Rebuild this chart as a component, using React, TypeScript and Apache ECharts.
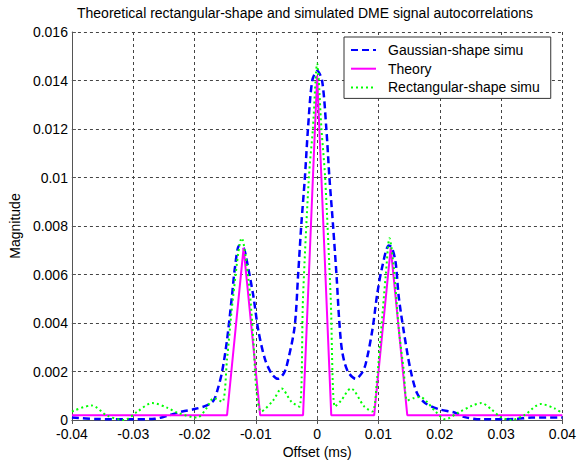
import React, { useEffect, useRef } from "react";
import * as echarts from "echarts";

const TITLE = "Theoretical rectangular-shape and simulated DME signal autocorrelations";
const X_NAME = "Offset (ms)";
const Y_NAME = "Magnitude";
const SERIES_NAMES = ["Gaussian-shape simu", "Theory", "Rectangular-shape simu"];

// Gaussian-shape simulation (blue dashed)
const gaussX = [
  -0.04, -0.036, -0.03, -0.0265, -0.0245, -0.022, -0.02, -0.018, -0.0169, -0.0163,
  -0.0155, -0.0147, -0.0139, -0.0134, -0.0127, -0.012, -0.0115, -0.0104, -0.0096, -0.0085,
  -0.0074, -0.0064, -0.0055, -0.005, -0.0037, -0.0031, -0.0026, -0.002, -0.0015, -0.0008,
  0, 0.0008, 0.0015, 0.002, 0.0026, 0.0032, 0.0036, 0.0041, 0.005, 0.0063,
  0.0072, 0.0079, 0.009, 0.0098, 0.0106, 0.0117, 0.0122, 0.0128, 0.0133, 0.0141,
  0.0152, 0.0163, 0.0176, 0.0198, 0.0225, 0.0241, 0.0268, 0.0322, 0.035, 0.04,
];
const gaussY = [
  0.0001, 0.00004, 0.00003, 0.00005, 0.00017, 0.00035, 0.00045, 0.0006, 0.0008, 0.0012,
  0.002, 0.0033, 0.0051, 0.0063, 0.0072, 0.0071, 0.0066, 0.0051, 0.0037, 0.0025,
  0.0019, 0.0017, 0.0019, 0.0022, 0.0038, 0.006, 0.008, 0.01, 0.012, 0.014,
  0.0144, 0.014, 0.012, 0.01, 0.008, 0.0058, 0.0041, 0.0028, 0.002, 0.0017,
  0.0019, 0.0023, 0.0037, 0.0052, 0.0063, 0.0072, 0.0071, 0.0065, 0.0051, 0.0037,
  0.0021, 0.0011, 0.0007, 0.00045, 0.0003, 0.00012, 0.00003, 0.00004, 0.0001, 0.0001,
];

// Theoretical rectangular-shape autocorrelation (magenta solid)
const theoryX = [-0.04, -0.0147, -0.012, -0.0093, -0.0023, 0, 0.0023, 0.0093, 0.012, 0.0147, 0.04];
const theoryY = [0.0002, 0.0002, 0.0071, 0.0002, 0.0002, 0.0142, 0.0002, 0.0002, 0.0071, 0.0002, 0.0002];

// Rectangular-shape simulation (green dotted)
const rectX = [
  -0.04, -0.0368, -0.0342, -0.0315, -0.0293, -0.0269, -0.0244, -0.0228, -0.0196, -0.018,
  -0.0169, -0.0155, -0.0147, -0.0137, -0.0123, -0.0112, -0.0104, -0.0099, -0.0091, -0.0072,
  -0.0058, -0.0042, -0.0029, -0.0023, -0.00135, -0.0007, 0, 0.0007, 0.0013, 0.0022,
  0.0029, 0.0039, 0.0055, 0.0077, 0.009, 0.0098, 0.0104, 0.0112, 0.0118, 0.0125,
  0.0133, 0.0141, 0.0147, 0.0157, 0.0168, 0.0179, 0.0193, 0.0209, 0.023, 0.0252,
  0.0268, 0.0284, 0.03, 0.0317, 0.0338, 0.0365, 0.0387, 0.04,
];
const rectY = [
  0.00035, 0.0006, 0.00017, 0.0, 0.00035, 0.0007, 0.0005, 0.0003, 0.0001, 0.0005,
  0.0009, 0.00075, 0.0025, 0.0051, 0.0075, 0.0058, 0.0033, 0.0012, 0.00035, 0.0008,
  0.0013, 0.00075, 0.00055, 0.0051, 0.01, 0.012, 0.0147, 0.012, 0.01, 0.0051,
  0.00055, 0.0008, 0.0013, 0.00055, 0.00035, 0.0018, 0.0036, 0.006, 0.0075, 0.0063,
  0.0038, 0.0021, 0.0008, 0.0009, 0.00095, 0.00075, 0.00035, 0.00003, 0.0003, 0.00058,
  0.0007, 0.00044, 0.00011, 0.0, 0.0002, 0.00066, 0.00048, 0.00028,
];

const X_MIN = -0.04;
const X_MAX = 0.04;
const X_STEP = 0.01;
const Y_MIN = 0;
const Y_MAX = 0.016;
const Y_STEP = 0.002;

const FONT = "'Liberation Sans', Arial, sans-serif";
const FS = 14;
const AXIS_COLOR = "#555";
const GRID_COLOR = "#444";

const zip = (xs: number[], ys: number[]) => xs.map((x, i) => [x, ys[i]]);

export default function App() {
  const ref = useRef<HTMLDivElement>(null);
  useEffect(() => {
    if (!ref.current) return;
    const chart = echarts.init(ref.current, undefined, { renderer: "svg" });
    const fmt = (v: number) => String(parseFloat(v.toFixed(4)));
    const baseAxis = {
      type: "value" as const,
      axisLine: { show: true, onZero: false, lineStyle: { color: AXIS_COLOR, width: 1 } },
      axisTick: { show: true, inside: true, length: 4, lineStyle: { color: AXIS_COLOR } },
    };
    chart.setOption({
      animation: false,
      backgroundColor: "#fff",
      textStyle: { fontFamily: FONT },
      title: {
        text: TITLE,
        left: 77,
        top: 6,
        padding: 0,
        textStyle: { fontSize: FS, fontWeight: "normal", color: "#000", fontFamily: FONT },
      },
      legend: {
        orient: "vertical",
        left: 344,
        top: 37,
        padding: [5, 11, 3, 6],
        itemWidth: 25,
        itemHeight: 16,
        itemGap: 2.7,
        backgroundColor: "#fff",
        borderColor: "#333",
        borderWidth: 1,
        borderRadius: 0,
        itemStyle: { opacity: 0 },
        textStyle: {
          fontSize: FS,
          lineHeight: 16,
          color: "#000",
          fontFamily: FONT,
          padding: [0, 0, 0, 7],
        },
        data: SERIES_NAMES,
      },
      grid: { left: 69, right: 13, top: 32, bottom: 47, containLabel: false },
      xAxis: [
        {
          ...baseAxis,
          min: X_MIN,
          max: X_MAX,
          interval: X_STEP,
          position: "bottom",
          name: X_NAME,
          nameLocation: "middle",
          nameGap: 25,
          nameTextStyle: { fontSize: FS, color: "#000", fontFamily: FONT },
          axisLabel: {
            fontSize: FS,
            lineHeight: 13,
            color: "#000",
            margin: 7,
            formatter: fmt,
            fontFamily: FONT,
          },
          splitLine: { show: true, lineStyle: { color: GRID_COLOR, type: [3, 3], width: 1 } },
        },
        {
          ...baseAxis,
          min: X_MIN,
          max: X_MAX,
          interval: X_STEP,
          position: "top",
          axisLine: { show: false },
          axisLabel: { show: false },
          splitLine: { show: false },
        },
      ],
      yAxis: [
        {
          ...baseAxis,
          min: Y_MIN,
          max: Y_MAX,
          interval: Y_STEP,
          position: "left",
          name: Y_NAME,
          nameLocation: "middle",
          nameGap: 46,
          nameRotate: 90,
          nameTextStyle: { fontSize: FS, color: "#000", fontFamily: FONT },
          axisLabel: {
            fontSize: FS,
            lineHeight: 12,
            color: "#000",
            margin: 4,
            formatter: fmt,
            fontFamily: FONT,
          },
          splitLine: { show: true, lineStyle: { color: GRID_COLOR, type: [3, 3], width: 1 } },
        },
        {
          ...baseAxis,
          min: Y_MIN,
          max: Y_MAX,
          interval: Y_STEP,
          position: "right",
          axisLine: { show: false },
          axisLabel: { show: false },
          splitLine: { show: false },
        },
      ],
      series: [
        {
          name: SERIES_NAMES[0],
          type: "line",
          data: zip(gaussX, gaussY),
          showSymbol: false,
          symbol: "none",
          smooth: 0.3,
          lineStyle: { color: "#0000ff", width: 2.5, type: [7, 4] },
          itemStyle: { color: "#0000ff" },
        },
        {
          name: SERIES_NAMES[1],
          type: "line",
          data: zip(theoryX, theoryY),
          showSymbol: false,
          symbol: "none",
          lineStyle: { color: "#ff00ff", width: 2 },
          itemStyle: { color: "#ff00ff" },
        },
        {
          name: SERIES_NAMES[2],
          type: "line",
          data: zip(rectX, rectY),
          showSymbol: false,
          symbol: "none",
          smooth: 0.3,
          lineStyle: { color: "#00ff00", width: 2, type: [2, 3] },
          itemStyle: { color: "#00ff00" },
        },
      ],
    });
    return () => chart.dispose();
  }, []);
  return (
    <div
      ref={ref}
      style={{ position: "fixed", left: 0, top: 0, width: 579, height: 467, background: "#fff" }}
    />
  );
}
